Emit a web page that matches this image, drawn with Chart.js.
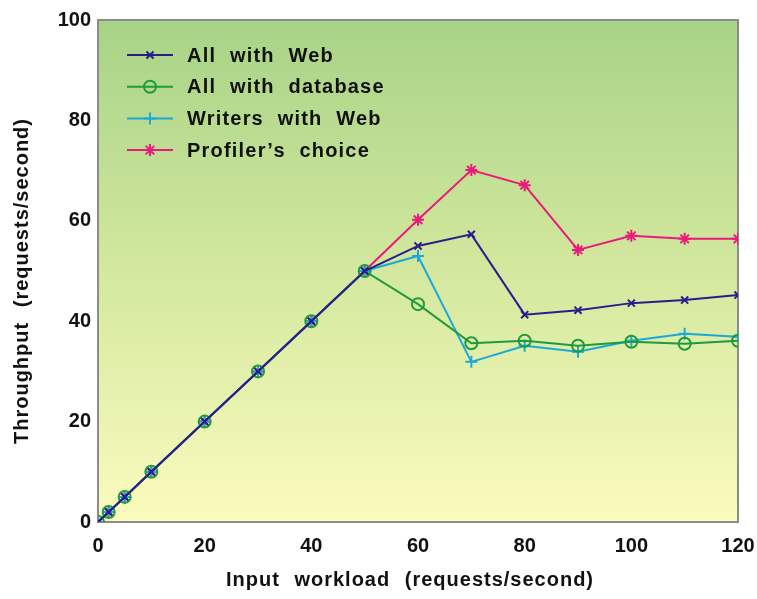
<!DOCTYPE html>
<html>
<head>
<meta charset="utf-8">
<script src="https://cdn.jsdelivr.net/npm/chart.js@4"></script>
<style>
  html, body { margin: 0; padding: 0; background: #fff; }
  #wrap { width: 757px; height: 599px; }
</style>
</head>
<body>
<div id="wrap"><canvas id="tput"></canvas></div>
<script>
const workload = [0, 2, 5, 10, 20, 30, 40, 50, 60, 70, 80, 90, 100, 110, 120];
const allWithWeb = [0, 2, 5, 10, 20, 30, 40, 50, 55, 57.3, 41.3, 42.2, 43.6, 44.2, 45.2];
const allWithDb = [0, 2, 5, 10, 20, 30, 40, 50, 43.4, 35.6, 36.1, 35.1, 35.9, 35.5, 36.1];
const writersWithWeb = [0, 2, 5, 10, 20, 30, 40, 50, 53, 31.9, 35.1, 33.9, 36.1, 37.5, 36.9];
const profilersChoice = [0, 2, 5, 10, 20, 30, 40, 50, 60.2, 70.1, 67.1, 54.2, 57, 56.4, 56.4];
const yTicks = [0, 20, 40, 60, 80, 100];
const xTicks = [0, 20, 40, 60, 80, 100, 120];
const xTitle = 'Input workload (requests/second)';
const yTitle = 'Throughput (requests/second)';

const FONT = '"Liberation Sans", Arial, sans-serif';

const series = [
  { label: 'All with Web', data: allWithWeb, color: '#2b1c8c', style: 'crossRot', r: 5 },
  { label: 'All with database', data: allWithDb, color: '#1f9a3c', style: 'circle', r: 6 },
  { label: 'Writers with Web', data: writersWithWeb, color: '#1ba9d9', style: 'cross', r: 6 },
  { label: 'Profiler\u2019s choice', data: profilersChoice, color: '#ea1a7c', style: 'star', r: 6 }
];

const pts = arr => arr.map((v, i) => ({ x: workload[i], y: v }));

function spaced(ctx, letter, word) {
  if ('letterSpacing' in ctx) ctx.letterSpacing = letter;
  if ('wordSpacing' in ctx) ctx.wordSpacing = word;
}

// gradient background + grey frame round the plot
const plotBg = {
  id: 'plotBg',
  beforeDatasetsDraw(chart) {
    const { ctx, chartArea: a } = chart;
    const g = ctx.createLinearGradient(0, a.top, 0, a.bottom);
    g.addColorStop(0, '#a7d386');
    g.addColorStop(0.5, '#d3e89e');
    g.addColorStop(1, '#fbfbbe');
    ctx.save();
    ctx.fillStyle = g;
    ctx.fillRect(a.left, a.top, a.right - a.left, a.bottom - a.top);
    ctx.strokeStyle = '#8c8c8c';
    ctx.lineWidth = 2;
    ctx.strokeRect(a.left, a.top, a.right - a.left, a.bottom - a.top);
    ctx.restore();
  }
};

// legend (line + marker) inside the plot, and the two axis titles
const extras = {
  id: 'extras',
  afterDraw(chart) {
    const { ctx, chartArea: a } = chart;
    ctx.save();
    ctx.font = 'bold 20px ' + FONT;
    ctx.textBaseline = 'middle';
    spaced(ctx, '1.2px', '7px');
    chart.data.datasets.forEach((ds, i) => {
      const y = a.top + 35 + i * 31.7;
      const x0 = a.left + 29;
      ctx.strokeStyle = ds.borderColor;
      ctx.fillStyle = ds.backgroundColor;
      ctx.lineWidth = 2;
      ctx.beginPath();
      ctx.moveTo(x0, y);
      ctx.lineTo(x0 + 46, y);
      ctx.stroke();
      Chart.helpers.drawPoint(ctx, {
        pointStyle: ds.pointStyle, radius: ds.pointRadius, rotation: 0, borderWidth: 2
      }, x0 + 23, y);
      ctx.fillStyle = '#111';
      ctx.fillText(ds.label, x0 + 60, y + 1);
    });

    // axis titles
    ctx.textAlign = 'center';
    spaced(ctx, '1px', '8px');
    ctx.fillText(xTitle, (a.left + a.right) / 2 - 8, 580);
    ctx.translate(22, (a.top + a.bottom) / 2 + 10);
    ctx.rotate(-Math.PI / 2);
    ctx.fillText(yTitle, 0, 0);
    ctx.restore();
  }
};

new Chart(document.getElementById('tput'), {
  type: 'line',
  data: {
    datasets: series.map(s => ({
      label: s.label,
      data: pts(s.data),
      borderColor: s.color,
      backgroundColor: s.style === 'circle' ? 'rgba(0,0,0,0)' : s.color,
      pointStyle: s.style,
      pointRadius: s.r,
      pointBorderWidth: 2,
      borderWidth: 2,
      tension: 0
    }))
  },
  options: {
    responsive: true,
    maintainAspectRatio: false,
    animation: false,
    layout: { padding: { left: 0, right: 19, top: 20, bottom: 0 } },
    plugins: {
      legend: { display: false },
      tooltip: { enabled: false }
    },
    scales: {
      x: {
        type: 'linear',
        min: 0, max: 120,
        grid: { display: false, drawTicks: false },
        border: { display: false },
        afterBuildTicks: s => { s.ticks = xTicks.map(v => ({ value: v })); },
        afterFit: s => { s.height = 77; s.paddingLeft = 0; s.paddingRight = 0; },
        ticks: { color: '#111', padding: 12, font: { family: FONT, size: 20, weight: 'bold' } }
      },
      y: {
        min: 0, max: 100,
        grid: { display: false, drawTicks: false },
        border: { display: false },
        afterBuildTicks: s => { s.ticks = yTicks.map(v => ({ value: v })); },
        afterFit: s => { s.width = 98; s.paddingTop = 0; s.paddingBottom = 0; },
        ticks: { color: '#111', padding: 7, font: { family: FONT, size: 20, weight: 'bold' } }
      }
    }
  },
  plugins: [plotBg, extras]
});
</script>
</body>
</html>
